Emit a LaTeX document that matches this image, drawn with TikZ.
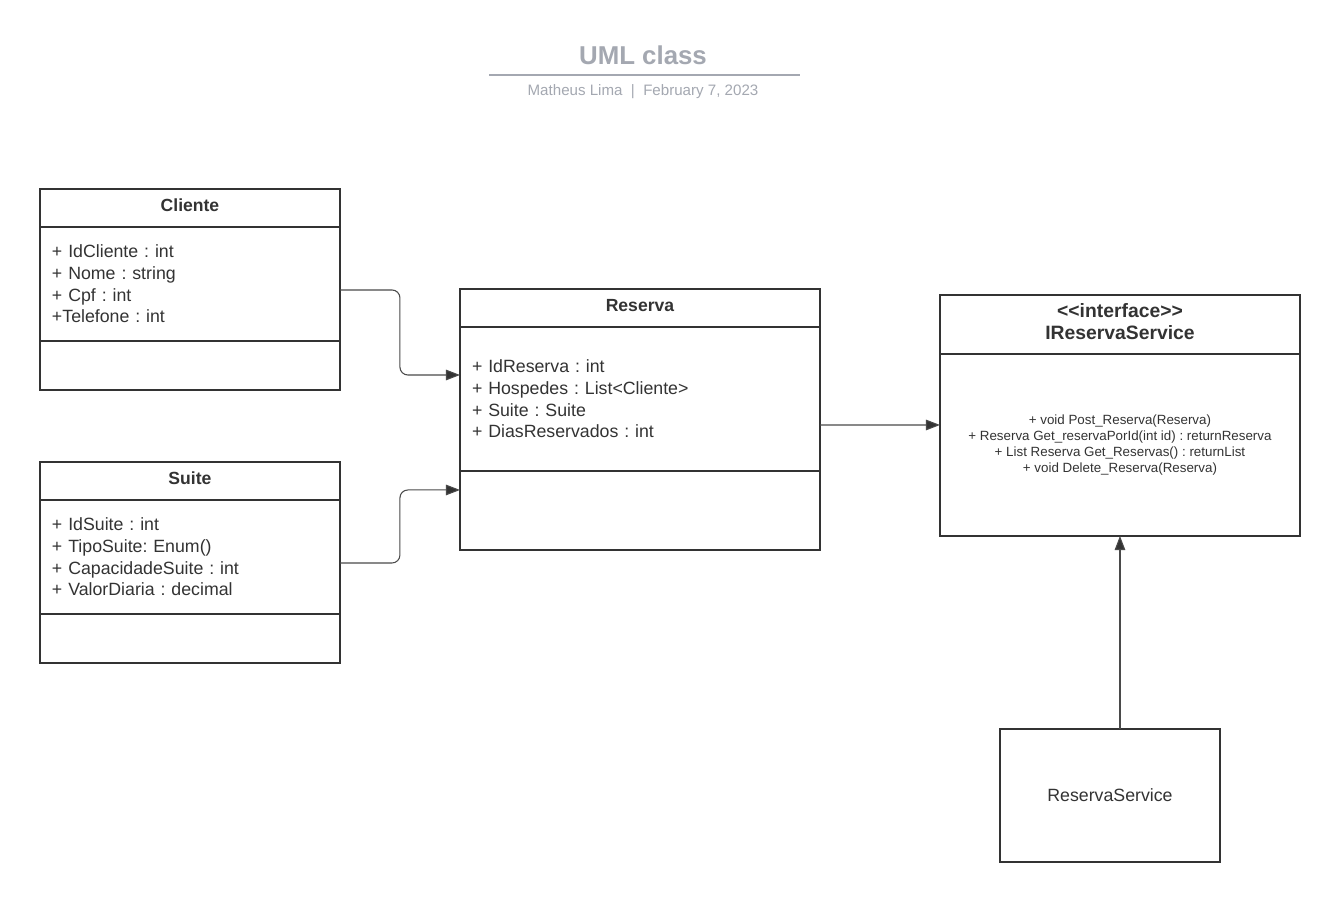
\documentclass[tikz,border=0pt]{standalone}
\usepackage{fontspec}
\setmainfont{Liberation Sans}
\usetikzlibrary{positioning,arrows.meta}
\definecolor{boxline}{HTML}{333333}
\definecolor{titlegray}{HTML}{A4A8B1}
\definecolor{wireline}{HTML}{4A4A4A}
\frenchspacing
\begin{document}
\begin{tikzpicture}[x=0.02cm,y=-0.02cm,
  box/.style={draw=boxline,line width=1.1pt,inner sep=0pt,outer sep=0pt,text=boxline},
  head/.style={box,font=\bfseries\fontsize{10}{12}\selectfont,minimum height=0.76cm,text depth=3.4pt,anchor=north west},
  attrs/.style={box,align=left,inner xsep=0.24cm,font=\fontsize{10.1}{12.3}\selectfont},
  meths/.style={box},
  wire/.style={draw=wireline,line width=0.6pt,rounded corners=4.5pt,-{Triangle[length=8pt,width=6pt,fill=boxline]}}]

\fill[white] (0,0) rectangle (1342,917);

\node[text=titlegray,font=\bfseries\fontsize{14.7}{17}\selectfont] (title) at (643,55) {UML class};
\draw[titlegray,line width=1.2pt] (489,75) -- (800,75);
\node[text=titlegray,font=\fontsize{8.6}{10}\selectfont] (subtitle) at (643,92) {Matheus Lima \ | \ February 7, 2023};

\node[head,minimum width=6cm] (clientehead) at (40,189) {Cliente};
\node[attrs,text width=5.52cm,minimum height=2.28cm,below=0pt of clientehead] (clienteattr) {+ IdCliente : int\\+ Nome : string\\+ Cpf : int\\+Telefone : int};
\node[meths,minimum width=6cm,minimum height=0.98cm,below=0pt of clienteattr] (clientemeth) {};

\node[head,minimum width=6cm] (suitehead) at (40,462) {Suite};
\node[attrs,text width=5.52cm,minimum height=2.28cm,below=0pt of suitehead] (suiteattr) {+ IdSuite : int\\+ TipoSuite: Enum()\\+ CapacidadeSuite : int\\+ ValorDiaria : decimal};
\node[meths,minimum width=6cm,minimum height=0.98cm,below=0pt of suiteattr] (suitemeth) {};

\node[head,minimum width=7.2cm] (reservahead) at (460,289) {Reserva};
\node[attrs,text width=6.72cm,minimum height=2.88cm,below=0pt of reservahead] (reservaattr) {+ IdReserva : int\\+ Hospedes : List<Cliente>\\+ Suite : Suite\\+ DiasReservados : int};
\node[meths,minimum width=7.2cm,minimum height=1.58cm,below=0pt of reservaattr] (reservameth) {};

\node[head,minimum width=7.2cm,minimum height=1.18cm,align=center,font=\bfseries\fontsize{11}{12.5}\selectfont] (ifacehead) at (940,295) {<{}<interface>{}>\\IReservaService};
\node[box,minimum width=7.2cm,minimum height=3.64cm,align=center,font=\fontsize{7.6}{9.1}\selectfont,below=0pt of ifacehead] (ifacebody) {+ void Post\_Reserva(Reserva)\\+ Reserva Get\_reservaPorId(int id) : returnReserva\\+ List Reserva Get\_Reservas() : returnList\\+ void Delete\_Reserva(Reserva)};

\node[box,minimum width=4.4cm,minimum height=2.66cm,anchor=north west,font=\fontsize{10.1}{12.3}\selectfont] (resserv) at (1000,729) {ReservaService};

\draw[wire] ([yshift=-0.12cm]clienteattr.east) -- ++(60,0) |- ([yshift=0.48cm]reservaattr.west);
\draw[wire] ([yshift=-0.12cm]suiteattr.east) -- ++(60,0) |- ([yshift=0.41cm]reservameth.west);
\draw[wire] ([yshift=-0.52cm]reservaattr.east) -- ([yshift=0.4cm]ifacebody.west);
\draw[wire] (resserv.north -| ifacebody.south) -- (ifacebody.south);
\end{tikzpicture}
\end{document}
